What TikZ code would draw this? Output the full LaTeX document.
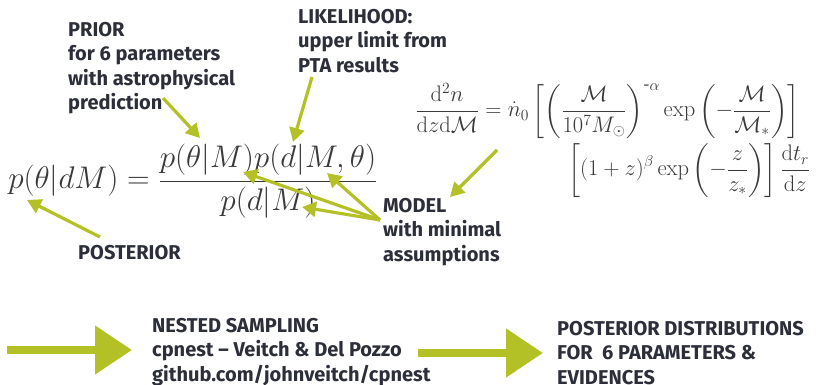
\documentclass[tikz,border=0pt]{standalone}
\usepackage[no-math]{fontspec}
\setmainfont{Fira Sans}
\usepackage{amsmath}
\usetikzlibrary{arrows.meta}

\definecolor{leaf}{HTML}{B3C127}
\definecolor{ink}{HTML}{2C2E3A}
\definecolor{mathink}{HTML}{3A3A3A}

\tikzstyle{lbl}=[anchor=north west,align=left,inner sep=0pt,text=ink,font=\fontsize{20}{24.5}\selectfont\bfseries]
\tikzstyle{eqn}=[inner sep=0pt,text=mathink,anchor=base west,transform shape]
\tikzstyle{pointer}=[color=leaf,line width=3.2pt,-{Triangle[length=14pt,width=15pt]}]
\tikzstyle{bigarrow}=[color=leaf,line width=8pt,-{Triangle[length=37pt,width=47pt]}]

\begin{document}
\begin{tikzpicture}[x=1pt,y=-1pt]
  \useasboundingbox (0,0) rectangle (823,385);

  % text labels
  \node[lbl] (prior) at (68,22) {PRIOR\\for 6 parameters\\with astrophysical\\prediction};
  \node[lbl] (likelihood) at (298,9) {LIKELIHOOD:\\upper limit from\\PTA results};
  \node[lbl] (model) at (383,198) {MODEL\\with minimal\\assumptions};
  \node[lbl] (posterior) at (78,245) {POSTERIOR};
  \node[lbl] (nested) at (152,318) {NESTED SAMPLING\\cpnest -- Veitch \& Del Pozzo\\github.com/johnveitch/cpnest};
  \node[lbl] (result) at (557,321) {POSTERIOR DISTRIBUTIONS\\FOR \ 6 PARAMETERS \&\\EVIDENCES};

  % formulae (cm math stops at 24.88pt, so scale up)
  \node[eqn,font=\fontsize{24.88}{28}\selectfont,scale=1.257] (bayes) at (8,189)
    {$p(\theta|dM)=\dfrac{p(\theta|M)p(d|M,\theta)}{p(d|M)}$};
  \node[eqn,font=\fontsize{20.74}{24}\selectfont,scale=1.085] (rate) at (415,117)
    {$\displaystyle\frac{\mathrm{d}^2n}{\mathrm{d}z\mathrm{d}\mathcal{M}}=\dot{n}_0\left[\left(\frac{\mathcal{M}}{10^7M_\odot}\right)^{\text{-}\alpha}\exp\left(-\frac{\mathcal{M}}{\mathcal{M}_*}\right)\right]$};
  \node[eqn,font=\fontsize{20.74}{24}\selectfont,scale=1.085] (rateb) at (568,176)
    {$\displaystyle\left[(1+z)^\beta\exp\left(-\frac{z}{z_*}\right)\right]\frac{\mathrm{d}t_r}{\mathrm{d}z}$};

  % arrow ends
  \coordinate (pr0) at (163,98);
  \coordinate (pr1) at (200,138);
  \coordinate (lk0) at (312,77);
  \coordinate (lk1) at (293,142);
  \coordinate (po0) at (100,237);
  \coordinate (po1) at (27,200);
  \coordinate (md0) at (380,220);
  \coordinate (md1) at (243,172);
  \coordinate (md2) at (327,173);
  \coordinate (md3) at (302,207);
  \coordinate (rt0) at (497,150);
  \coordinate (rt1) at (450,197);
  \coordinate (ns0) at (7,350);
  \coordinate (ns1) at (132,350);
  \coordinate (rs0) at (418,353);
  \coordinate (rs1) at (543,353);

  \path (pr0) edge [pointer] (pr1);
  \path (lk0) edge [pointer] (lk1);
  \path (po0) edge [pointer] (po1);
  \path (md0) edge [pointer] (md1);
  \path (md0) edge [pointer] (md2);
  \path (md0) edge [pointer] (md3);
  \path (rt0) edge [pointer] (rt1);

  \path (ns0) edge [bigarrow] (ns1);
  \path (rs0) edge [bigarrow] (rs1);
\end{tikzpicture}
\end{document}
